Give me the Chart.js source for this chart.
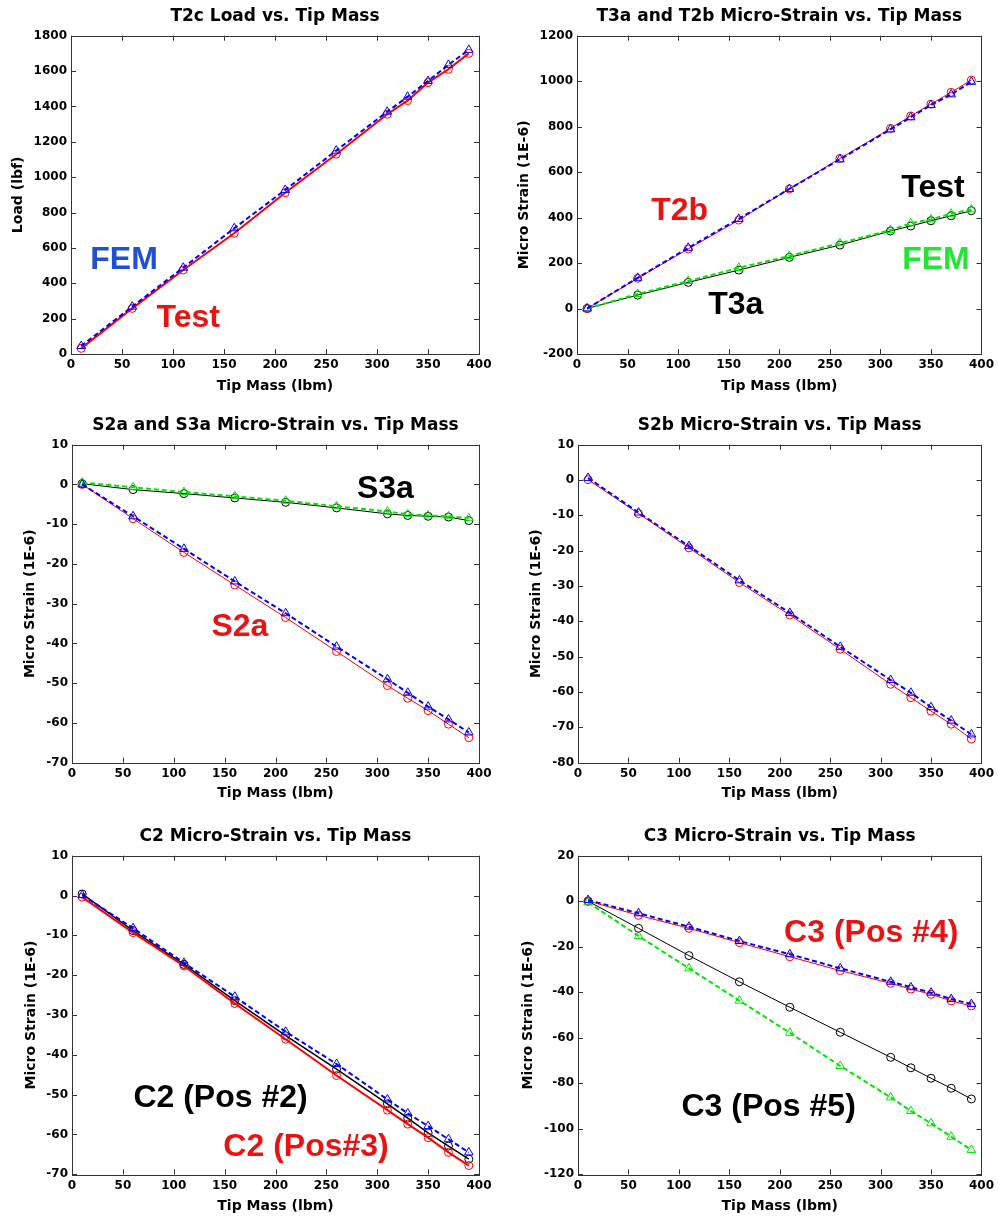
<!DOCTYPE html>
<html>
<head>
<meta charset="utf-8">
<script src="https://cdn.jsdelivr.net/npm/chart.js@4.4.1/dist/chart.umd.min.js"></script>
<style>
  body { margin: 0; background: #fff; }
  #wrap { position: relative; width: 998px; height: 1217px; }
  canvas { position: absolute; }
</style>
</head>
<body>
<div id="wrap">
  <canvas id="c1" width="499" height="405" style="left:0;top:0"></canvas>
  <canvas id="c2" width="499" height="405" style="left:499px;top:0"></canvas>
  <canvas id="c3" width="499" height="405" style="left:0;top:409px"></canvas>
  <canvas id="c4" width="499" height="405" style="left:499px;top:409px"></canvas>
  <canvas id="c5" width="499" height="397" style="left:0;top:820px"></canvas>
  <canvas id="c6" width="499" height="397" style="left:499px;top:820px"></canvas>
</div>
<script>
// tip mass (lbm) used for every test point
const tipMass = [10, 60, 110, 160, 210, 260, 310, 330, 350, 370, 390];

// T2c load (lbf)
const t2cTest = [32, 258, 475, 683, 912, 1130, 1356, 1433, 1535, 1610, 1700];
const t2cFem  = [45, 268, 488, 711, 928, 1150, 1370, 1455, 1544, 1635, 1720];

// T3a / T2b micro strain
const t2bTest = [0, 133, 262, 389, 526, 660, 792, 847, 899, 951, 1005];
const t2bFem  = [0, 135, 267, 394, 526, 656, 788, 841, 895, 942, 997];
const t3aTest = [0, 59, 115, 169, 225, 279, 341, 363, 386, 408, 430];
const t3aFem  = [0, 64, 121, 179, 231, 287, 345, 375, 392, 417, 436];

// S2a / S3a micro strain
const s2aTest = [0, -8.6, -17.1, -25.3, -33.5, -42, -50.6, -53.8, -56.9, -60.3, -63.7];
const s2aFem  = [0, -8, -16.2, -24.4, -32.4, -40.8, -49, -52.4, -55.9, -59.1, -62.4];
const s3aTest = [0.2, -1.3, -2.3, -3.4, -4.5, -5.9, -7.4, -7.8, -8, -8.2, -9.1];
const s3aFem  = [0.5, -0.7, -1.9, -3, -4.1, -5.5, -6.8, -7.5, -7.8, -8, -8.5];

// S2b micro strain
const s2bTest = [0.1, -9.5, -19.2, -29, -38.2, -47.9, -57.8, -61.6, -65.4, -69.1, -73.3];
const s2bFem  = [0.6, -9.2, -18.7, -28.4, -37.6, -47.2, -56.6, -60.2, -64.3, -68.1, -72];

// C2 micro strain
const c2Pos2Test = [0.4, -8.8, -17.3, -26.4, -35.2, -43.6, -52.3, -55.9, -59.6, -62.9, -66.2];
const c2Pos3Test = [-0.4, -9.3, -17.7, -27.1, -36.1, -45.2, -53.9, -57.4, -60.8, -64.5, -67.8];
const c2Fem      = [0.1, -8.2, -16.9, -25.4, -34.2, -42.3, -51.2, -54.7, -57.9, -61.2, -64.5];

// C3 micro strain
const c3Pos4Test = [0.1, -6.2, -11.9, -18.2, -24.4, -30.5, -36.1, -38.6, -40.9, -43.8, -46];
const c3Pos4Fem  = [0.5, -5.3, -11.2, -17.5, -23.3, -29.5, -35.4, -37.8, -40.2, -43, -45.2];
const c3Pos5Test = [0, -11.9, -23.9, -35.4, -46.6, -57.6, -68.6, -73.2, -77.8, -82.2, -86.9];
const c3Pos5Fem  = [-0.5, -15.3, -29.5, -43.7, -57.8, -72.4, -86.2, -92.2, -97.6, -103.5, -109.3];

const RED = '#ff0000', BLUE = '#0000ff', GREEN = '#00e600', BLACK = '#000000';
const TXT_RED = '#e81414', TXT_BLUE = '#1f4fd2', TXT_GREEN = '#22e633';

Chart.defaults.font.family = 'DejaVu Sans';
Chart.defaults.font.weight = 'bold';
Chart.defaults.color = '#000';

function pts(vals) {
  return vals.map((v, i) => ({ x: tipMass[i], y: v }));
}
function test(vals, color, width) {
  return {
    data: pts(vals), borderColor: color, borderWidth: width,
    pointStyle: 'circle', pointRadius: 4, pointBorderColor: color,
    pointBackgroundColor: 'rgba(0,0,0,0)', pointBorderWidth: 1, order: 1
  };
}
function fem(vals, color) {
  return {
    data: pts(vals), borderColor: color, borderWidth: 2, borderDash: [5, 3],
    pointStyle: 'triangle', pointRadius: 5, pointBorderColor: color,
    pointBackgroundColor: 'rgba(0,0,0,0)', pointBorderWidth: 1, order: 0
  };
}

// box round the plot with inward tick marks, like the original figure
const frame = {
  id: 'frame',
  afterDraw(chart) {
    const { ctx, chartArea: a, scales } = chart;
    ctx.save();
    ctx.strokeStyle = '#333';
    ctx.lineWidth = 1;
    ctx.beginPath();
    scales.x.ticks.forEach(t => {
      const px = Math.round(scales.x.getPixelForValue(t.value)) + 0.5;
      ctx.moveTo(px, a.bottom); ctx.lineTo(px, a.bottom - 5);
      ctx.moveTo(px, a.top); ctx.lineTo(px, a.top + 5);
    });
    scales.y.ticks.forEach(t => {
      const py = Math.round(scales.y.getPixelForValue(t.value)) + 0.5;
      ctx.moveTo(a.left, py); ctx.lineTo(a.left + 5, py);
      ctx.moveTo(a.right, py); ctx.lineTo(a.right - 5, py);
    });
    ctx.stroke();
    ctx.strokeRect(Math.round(a.left) + 0.5, Math.round(a.top) + 0.5,
      Math.round(a.right - a.left), Math.round(a.bottom - a.top));
    ctx.restore();
  }
};

// big text labels placed in data units
const notes = {
  id: 'notes',
  afterDatasetsDraw(chart, args, opts) {
    const { ctx, scales } = chart;
    ctx.save();
    ctx.font = 'bold 32px "Liberation Sans", Arial, sans-serif';
    ctx.textAlign = 'center';
    ctx.textBaseline = 'middle';
    (opts.items || []).forEach(n => {
      ctx.fillStyle = n.color;
      ctx.fillText(n.text, scales.x.getPixelForValue(n.x), scales.y.getPixelForValue(n.y));
    });
    ctx.restore();
  }
};

function makeChart(id, s) {
  new Chart(document.getElementById(id), {
    type: 'line',
    data: { datasets: s.datasets },
    plugins: [frame, notes],
    options: {
      responsive: false, animation: false, devicePixelRatio: 1,
      layout: { padding: { left: 0, right: s.padRight, top: 0, bottom: 0 } },
      plugins: {
        legend: { display: false },
        tooltip: { enabled: false },
        title: {
          display: true, text: s.title, fullSize: false,
          font: { size: 17, weight: 'bold' }, color: '#000',
          padding: { top: 6, bottom: 9.3 }
        },
        notes: { items: s.notes }
      },
      scales: {
        x: {
          type: 'linear', min: 0, max: 400,
          afterFit: sc => { sc.height = s.xHeight; },
          grid: { display: false, drawTicks: false }, border: { display: false },
          ticks: { stepSize: 50, padding: 4, font: { size: 12 }, callback: v => String(v) },
          title: { display: true, text: 'Tip Mass (lbm)', font: { size: 14 }, padding: { top: 0, bottom: s.xTitlePad } }
        },
        y: {
          type: 'linear', min: s.yMin, max: s.yMax,
          afterFit: sc => { sc.width = s.yWidth; },
          grid: { display: false, drawTicks: false }, border: { display: false },
          ticks: { stepSize: s.yStep, padding: 4, font: { size: 12 }, callback: v => String(v) },
          title: { display: true, text: s.yTitle, font: { size: 14 }, padding: { top: s.yTitlePad, bottom: 0 } }
        }
      }
    }
  });
}

makeChart('c1', {
  title: 'T2c Load vs. Tip Mass', yTitle: 'Load (lbf)',
  yMin: 0, yMax: 1800, yStep: 200,
  yWidth: 71, padRight: 20, xHeight: 51, xTitlePad: 10.6, yTitlePad: 9.6,
  datasets: [test(t2cTest, RED, 2), fem(t2cFem, BLUE)],
  notes: [{ text: 'FEM', x: 52, y: 532, color: TXT_BLUE }, { text: 'Test', x: 115, y: 204, color: TXT_RED }]
});

makeChart('c2', {
  title: 'T3a and T2b Micro-Strain vs. Tip Mass', yTitle: 'Micro Strain (1E-6)',
  yMin: -200, yMax: 1200, yStep: 200,
  yWidth: 78, padRight: 14, xHeight: 51, xTitlePad: 10.6, yTitlePad: 16.6,
  datasets: [test(t2bTest, RED, 1), fem(t2bFem, BLUE), test(t3aTest, BLACK, 1), fem(t3aFem, GREEN)],
  notes: [
    { text: 'T2b', x: 101.5, y: 429, color: TXT_RED },
    { text: 'Test', x: 352, y: 530, color: BLACK },
    { text: 'FEM', x: 355, y: 213, color: TXT_GREEN },
    { text: 'T3a', x: 157, y: 15, color: BLACK }
  ]
});

makeChart('c3', {
  title: 'S2a and S3a Micro-Strain vs. Tip Mass', yTitle: 'Micro Strain (1E-6)',
  yMin: -70, yMax: 10, yStep: 10,
  yWidth: 72, padRight: 20, xHeight: 51.3, xTitlePad: 12.6, yTitlePad: 21.6,
  datasets: [test(s2aTest, RED, 1), fem(s2aFem, BLUE), test(s3aTest, BLACK, 1), fem(s3aFem, GREEN)],
  notes: [{ text: 'S3a', x: 308, y: -1.1, color: BLACK }, { text: 'S2a', x: 165, y: -35.8, color: TXT_RED }]
});

makeChart('c4', {
  title: 'S2b Micro-Strain vs. Tip Mass', yTitle: 'Micro Strain (1E-6)',
  yMin: -80, yMax: 10, yStep: 10,
  yWidth: 79, padRight: 14, xHeight: 51.3, xTitlePad: 12.6, yTitlePad: 28.6,
  datasets: [test(s2bTest, RED, 1), fem(s2bFem, BLUE)],
  notes: []
});

makeChart('c5', {
  title: 'C2 Micro-Strain vs. Tip Mass', yTitle: 'Micro Strain (1E-6)',
  yMin: -70, yMax: 10, yStep: 10,
  yWidth: 72, padRight: 20, xHeight: 42.7, xTitlePad: 2.6, yTitlePad: 22.6,
  datasets: [test(c2Pos3Test, RED, 2), test(c2Pos2Test, BLACK, 1.5), fem(c2Fem, BLUE)],
  notes: [{ text: 'C2 (Pos #2)', x: 146, y: -50.8, color: BLACK }, { text: 'C2 (Pos#3)', x: 230, y: -63.1, color: TXT_RED }]
});

makeChart('c6', {
  title: 'C3 Micro-Strain vs. Tip Mass', yTitle: 'Micro Strain (1E-6)',
  yMin: -120, yMax: 20, yStep: 20,
  yWidth: 79, padRight: 14, xHeight: 42.7, xTitlePad: 2.6, yTitlePad: 20.6,
  datasets: [test(c3Pos4Test, RED, 1), fem(c3Pos4Fem, BLUE), test(c3Pos5Test, BLACK, 1), fem(c3Pos5Fem, GREEN)],
  notes: [{ text: 'C3 (Pos #4)', x: 290.7, y: -14, color: TXT_RED }, { text: 'C3 (Pos #5)', x: 189, y: -90.3, color: BLACK }]
});
</script>
</body>
</html>
